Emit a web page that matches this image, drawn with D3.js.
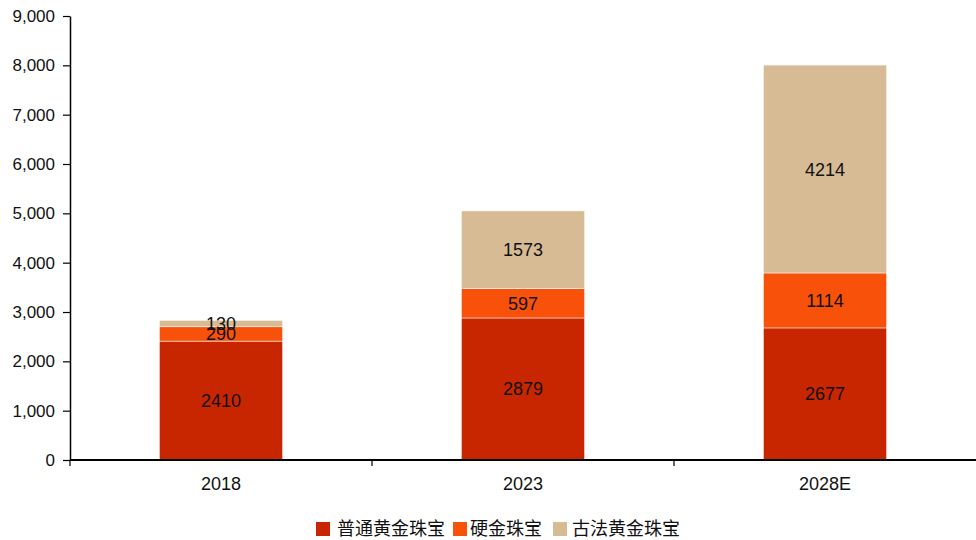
<!DOCTYPE html>
<html><head><meta charset="utf-8">
<script src="https://cdn.jsdelivr.net/npm/d3@7"></script>
<style>body{margin:0;background:#fff;}svg{display:block;font-family:"Liberation Sans",Arial,sans-serif;}</style>
</head><body>
<svg id="c" width="976" height="540"></svg>
<script>
const categories = ["2018","2023","2028E"];
const seriesNames = ["普通黄金珠宝","硬金珠宝","古法黄金珠宝"];
const putong = [2410,2879,2677];
const yingjin = [290,597,1114];
const gufa = [130,1573,4214];
const yTicks = [0,1000,2000,3000,4000,5000,6000,7000,8000,9000];
const colors = ["#C82600","#F8520A","#D6BB94"];

(function(){
const svg = d3.select("#c");
const mLeft = 70, mRight = 976, mTop = 16, mBottom = 460;
const x = d3.scaleBand().domain(categories).range([mLeft,mRight]).padding(0);
const y = d3.scaleLinear().domain([0,9000]).range([mBottom,mTop]);
const rows = categories.map((c,i)=>({cat:c, s0:putong[i], s1:yingjin[i], s2:gufa[i]}));
const stack = d3.stack().keys(["s0","s1","s2"])(rows);
const bw = x.bandwidth()*0.408;

stack.forEach((layer,li)=>{
  const g = svg.append("g");
  g.selectAll("rect").data(layer).enter().append("rect")
    .attr("x", d=>x(d.data.cat)+x.bandwidth()/2-bw/2)
    .attr("width", bw)
    .attr("y", d=>y(d[1]))
    .attr("height", d=>y(d[0])-y(d[1]))
    .attr("fill", colors[li])
    .attr("stroke","#fff").attr("stroke-width",0.5);
});
stack.forEach((layer,li)=>{
  svg.append("g").selectAll("text").data(layer).enter().append("text")
    .attr("x", d=>x(d.data.cat)+x.bandwidth()/2)
    .attr("y", d=>(y(d[0])+y(d[1]))/2)
    .attr("dy","0.36em")
    .attr("text-anchor","middle")
    .attr("font-size",18).attr("fill","#111")
    .text(d=>d[1]-d[0]);
});

const yAxis = d3.axisLeft(y).tickValues(yTicks).tickFormat(d3.format(",")).tickSize(7).tickSizeOuter(0);
const ya = svg.append("g").attr("transform",`translate(${mLeft},0)`).call(yAxis);
ya.select(".domain").attr("stroke","#000").attr("stroke-width",1.5);
ya.selectAll(".tick line").attr("stroke","#000").attr("stroke-width",1.2);
ya.selectAll(".tick text").attr("font-size",17).attr("fill","#111").attr("font-family","Liberation Sans, Arial, sans-serif").attr("x",-15);

const xa = svg.append("g").attr("transform",`translate(0,${mBottom})`);
xa.append("line").attr("x1",mLeft).attr("x2",mRight).attr("y1",0).attr("y2",0).attr("stroke","#000").attr("stroke-width",2);
const bounds = categories.map(c=>x(c));
xa.selectAll("line.t").data(bounds).enter().append("line").attr("class","t")
  .attr("x1",d=>d).attr("x2",d=>d).attr("y1",0).attr("y2",6).attr("stroke","#000").attr("stroke-width",1.2);
xa.selectAll("text").data(categories).enter().append("text")
  .attr("x",d=>x(d)+x.bandwidth()/2).attr("y",30)
  .attr("text-anchor","middle").attr("font-size",18).attr("fill","#111").text(d=>d);

const legX = [316,453,553];
const legTX = [337,470,572];
const lg = svg.append("g");
seriesNames.forEach((n,i)=>{
  lg.append("rect").attr("x",legX[i]).attr("y",522).attr("width",14).attr("height",14).attr("fill",colors[i]);
  lg.append("text").attr("x",legTX[i]).attr("y",529).attr("dy","0.36em").attr("font-size",18)
    .attr("font-family","Noto Sans CJK SC, sans-serif").attr("fill","#111").text(n);
});
})();
</script>
</body></html>
